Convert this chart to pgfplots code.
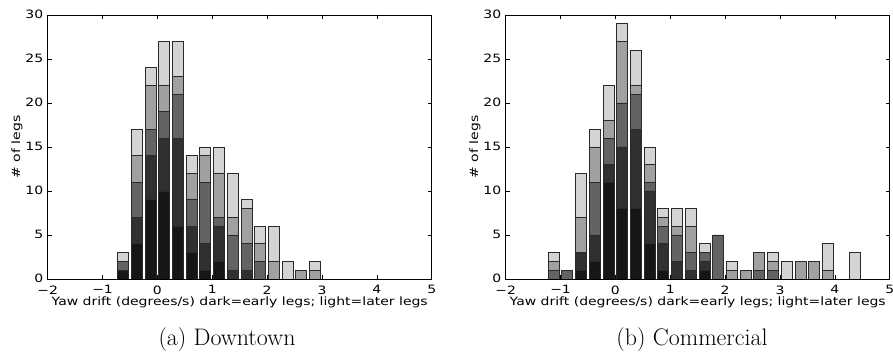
\documentclass[border=0pt]{standalone}
\usepackage{fontspec}
\usepackage{pgfplots}
\usepackage{pgfplotstable}
\pgfplotsset{compat=1.18}
\newfontfamily\dejavu[FakeStretch=1.22]{DejaVu Sans}
\definecolor{c1}{HTML}{161616}
\definecolor{c2}{HTML}{303030}
\definecolor{c3}{HTML}{636363}
\definecolor{c4}{HTML}{A0A0A0}
\definecolor{c5}{HTML}{D4D4D4}
\definecolor{edge}{HTML}{2A2A2A}

\pgfplotstableread{
x s1 s2 s3 s4 s5
-1.875 0 0 0 0 0
-1.625 0 0 0 0 0
-1.375 0 0 0 0 0
-1.125 0 0 0 0 0
-0.875 0 0 0 0 0
-0.625 1 0 1 0 1
-0.375 4 3 4 3 3
-0.125 9 5 3 5 2
0.125 10 6 3 3 5
0.375 6 10 5 2 4
0.625 3 3 3 3 2
0.875 1 3 7 3 1
1.125 2 4 1 5 3
1.375 0 1 4 2 5
1.625 0 1 3 4 1
1.875 0 0 2 2 2
2.125 0 0 0 2 4
2.375 0 0 0 0 2
2.625 0 0 0 1 0
2.875 0 0 0 1 1
3.125 0 0 0 0 0
3.375 0 0 0 0 0
3.625 0 0 0 0 0
3.875 0 0 0 0 0
4.125 0 0 0 0 0
4.375 0 0 0 0 0
4.625 0 0 0 0 0
}\downtown

\pgfplotstableread{
x s1 s2 s3 s4 s5
-1.875 0 0 0 0 0
-1.625 0 0 0 0 0
-1.375 0 0 0 0 0
-1.125 0 0 1 1 1
-0.875 0 0 1 0 0
-0.625 1 2 0 4 5
-0.375 2 3 6 4 2
-0.125 11 2 3 2 4
0.125 8 7 5 7 2
0.375 8 9 4 1 4
0.625 4 6 1 2 2
0.875 1 3 2 1 1
1.125 0 2 3 1 2
1.375 0 1 2 3 2
1.625 1 1 1 0 1
1.875 0 0 5 0 0
2.125 0 0 0 1 1
2.375 0 0 0 1 0
2.625 0 0 1 2 0
2.875 0 0 1 1 1
3.125 0 0 0 0 2
3.375 0 0 0 2 0
3.625 0 0 0 2 0
3.875 0 0 0 1 3
4.125 0 0 0 0 0
4.375 0 0 0 0 3
4.625 0 0 0 0 0
}\commercial

\pgfplotsset{histo/.style={
  width=384bp, height=264bp, scale only axis, anchor=south west,
  xmin=-2, xmax=5, ymin=0, ymax=30,
  xtick={-2,...,5}, xticklabels={−2,−1,0,1,2,3,4,5},
  ytick={0,5,...,30},
  ybar stacked, bar width=0.2,
  tick label style={font=\dejavu\fontsize{11.5}{13}\selectfont},
  label style={font=\dejavu\fontsize{11.5}{13}\selectfont},
  xticklabel style={yshift=-3bp},
  yticklabel style={xshift=-1bp, yshift=1bp},
  /pgf/number format/assume math mode=true,
  xlabel={Yaw drift (degrees/s) dark=early legs; light=later legs},
  ylabel={\# of legs},
  xlabel style={yshift=4bp},
  ylabel style={yshift=-4bp},
  axis line style={black, line width=0.8bp},
  tick style={black, line width=0.6bp},
  major tick length=4bp,
  every axis plot/.append style={draw=edge, line width=0.9bp},
}}

\begin{document}
\begin{tikzpicture}
\path[use as bounding box] (0,0) rectangle (893bp,352bp);
\begin{axis}[histo, at={(47.7bp,73bp)}]
\addplot[fill=c1] table[x=x,y=s1]{\downtown};
\addplot[fill=c2] table[x=x,y=s2]{\downtown};
\addplot[fill=c3] table[x=x,y=s3]{\downtown};
\addplot[fill=c4] table[x=x,y=s4]{\downtown};
\addplot[fill=c5] table[x=x,y=s5]{\downtown};
\end{axis}
\begin{axis}[histo, at={(505.7bp,73bp)}]
\addplot[fill=c1] table[x=x,y=s1]{\commercial};
\addplot[fill=c2] table[x=x,y=s2]{\commercial};
\addplot[fill=c3] table[x=x,y=s3]{\commercial};
\addplot[fill=c4] table[x=x,y=s4]{\commercial};
\addplot[fill=c5] table[x=x,y=s5]{\commercial};
\end{axis}
\node[anchor=base, font=\fontsize{24}{28}\selectfont\addfontfeature{FakeStretch=1.1}] at (227bp,7bp) {(a) Downtown};
\node[anchor=base, font=\fontsize{24}{28}\selectfont\addfontfeature{FakeStretch=1.1}] at (692bp,7bp) {(b) Commercial};
\end{tikzpicture}
\end{document}
